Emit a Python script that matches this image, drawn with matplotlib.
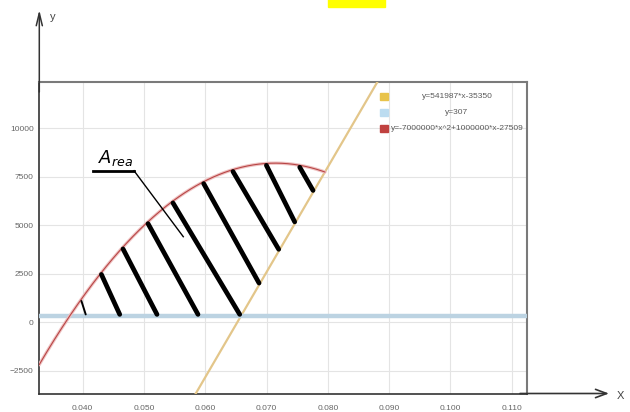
import matplotlib
matplotlib.use("Agg")
import matplotlib.pyplot as plt
from matplotlib.patches import Rectangle
import numpy as np

plt.rcParams['font.family'] = ['Liberation Sans', 'DejaVu Sans']
plt.rcParams['mathtext.fontset'] = 'dejavusans'

# curve coefficients (from the legend)
line_k, line_b = 541987, -35350
level = 307
parab = [-7000000, 1000000, -27509]

x_ticks = [0.040, 0.050, 0.060, 0.070, 0.080, 0.090, 0.100, 0.110]
x_ticklabels = ["0.040", "0.050", "0.060", "0.070", "0.080", "0.090", "0.100", "0.110"]
y_ticks = [-2500, 0, 2500, 5000, 7500, 10000]

legend_labels = ["y=541987*x-35350", "y=307", "y=-7000000*x^2+1000000*x-27509"]
legend_colors = ["#e8c34a", "#bcdcf0", "#c0413f"]

# hand drawn hatching: x where each stroke meets the parabola / the lower boundary
hatch_top_x = [0.03979, 0.04305, 0.04658, 0.05066, 0.05473, 0.05974, 0.06452, 0.06997, 0.07541]
hatch_bottom_x = [0.04049, 0.04604, 0.05212, 0.05881, 0.06562, 0.06877, 0.07198, 0.07459, 0.07758]
hatch_lw = [1.4, 3.4, 3.4, 3.4, 3.4, 3.4, 3.4, 3.4, 3.4]


def f_line(x):
    return line_k * np.asarray(x) + line_b


def f_parab(x):
    return np.polyval(parab, x)


fig = plt.figure(figsize=(6.3, 4.12), dpi=100)
ax = fig.add_axes([0.0624, 0.0449, 0.7737, 0.7568])
ax.set_xlim(0.03292, 0.11245)
ax.set_ylim(-3670, 12403)

# grid
ax.set_xticks(x_ticks)
ax.set_xticklabels(x_ticklabels)
ax.set_yticks(y_ticks)
ax.grid(True, color="#e4e4e4", lw=0.8)
ax.set_axisbelow(True)
ax.tick_params(length=0, labelsize=6, labelcolor="#666666")
ax.tick_params(axis="x", pad=8)
ax.tick_params(axis="y", pad=4)

for s in ["top", "right"]:
    ax.spines[s].set_color("#7a7a7a")
    ax.spines[s].set_linewidth(1.5)
for s in ["left", "bottom"]:
    ax.spines[s].set_color("#333333")
    ax.spines[s].set_linewidth(1.2)

# curves
xs = np.linspace(0.0329, 0.1125, 400)
ax.plot(xs, f_line(xs), color="#e3c68a", lw=1.6, zorder=3)
ax.axhline(level, color="#bcd3e2", lw=3.2, zorder=3)

# parabola up to its crossing with the straight line
roots = np.roots([parab[0], parab[1] - line_k, parab[2] - line_b])
x_end = roots.max()
xp = np.linspace(0.0329, x_end, 300)
ax.plot(xp, f_parab(xp), color="#eec2c2", lw=2.4, zorder=3, solid_capstyle="round")
ax.plot(xp, f_parab(xp), color="#b84545", lw=0.8, zorder=4)

# hatching strokes
for xt, xb, w in zip(hatch_top_x, hatch_bottom_x, hatch_lw):
    yt = f_parab(xt) - 100
    yb = max(f_line(xb), level) + 100
    ax.plot([xt, xb], [yt, yb], color="black", lw=w, solid_capstyle="round", zorder=5)

# "Area" annotation
ax.text(0.0425, 8212, r"$A_{rea}$", fontsize=13, color="black", zorder=6)
ax.plot([0.04173, 0.04837], [7815, 7815], color="black", lw=2.0, zorder=6)
ax.plot([0.04837, 0.05641], [7815, 4413], color="black", lw=1.0, zorder=6)

# legend drawn by hand (centered texts)
for i, (lab, col) in enumerate(zip(legend_labels, legend_colors)):
    ypx = 96.5 + i * 16
    yf = 1 - (ypx - 81.7) / 311.8
    ax.add_patch(Rectangle(((380 - 39.3) / 487.4, yf - 0.012), 8 / 487.4, 0.024,
                           transform=ax.transAxes, color=col, zorder=6, clip_on=False))
    ax.text((457 - 39.3) / 487.4, yf, lab, transform=ax.transAxes, ha="center",
            va="center", fontsize=6, color="#5a5a5a", zorder=6)

# axis arrows
ax.annotate("", xy=(39.3, 402), xytext=(39.3, 320), xycoords="figure pixels",
            textcoords="figure pixels",
            arrowprops=dict(arrowstyle="->,head_length=0.9,head_width=0.22",
                            color="#333333", lw=1.1, shrinkA=0, shrinkB=0))
ax.annotate("", xy=(609, 18.5), xytext=(520, 18.5), xycoords="figure pixels",
            textcoords="figure pixels",
            arrowprops=dict(arrowstyle="->,head_length=0.8,head_width=0.3",
                            color="#333333", lw=1.2, shrinkA=0, shrinkB=0))
fig.text(53 / 630, 1 - 17 / 412, "y", fontsize=8, color="#444444", ha="center", va="center")
fig.text(620 / 630, 1 - 396 / 412, "X", fontsize=8, color="#444444", ha="center", va="center")

# yellow highlight cut at the top edge
fig.patches.append(Rectangle((328 / 630, 1 - 7 / 412), 57 / 630, 8 / 412,
                             transform=fig.transFigure, color="#ffff00", zorder=0))

fig.savefig("out.png", dpi=100)
